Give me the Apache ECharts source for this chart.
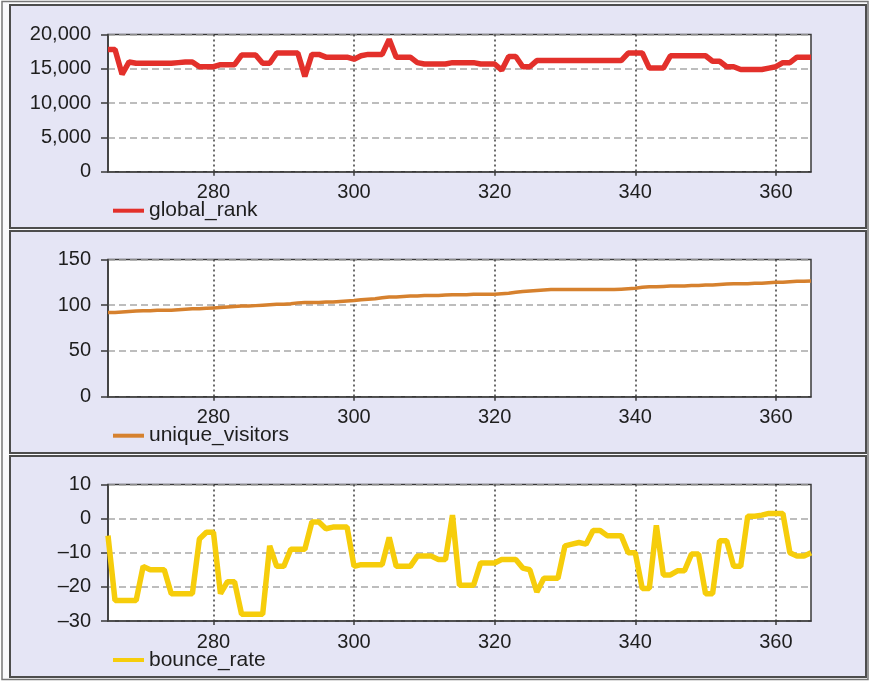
<!DOCTYPE html>
<html>
<head>
<meta charset="utf-8">
<script src="https://cdn.jsdelivr.net/npm/echarts@6/dist/echarts.min.js"></script>
<style>
  html, body { margin: 0; padding: 0; background: #ffffff; }
  #chart { width: 869px; height: 681px; }
</style>
</head>
<body>
<div id="chart"></div>
<script>
// Day-of-year range shown on every panel and the labelled x ticks
const firstDay = 265;
const lastDay = 365;
const xTicks = [280, 300, 320, 340, 360];

// Daily values, one per day from firstDay to lastDay
const globalRank = [
  17800, 17800, 14200, 16000, 15800, 15800, 15800, 15800, 15800, 15800, // 265
  15900, 16000, 16000, 15300, 15300, 15300, 15600, 15600, 15600, 17000, // 275
  17000, 17000, 15800, 15800, 17300, 17300, 17300, 17300, 13900, 17100, // 285
  17100, 16700, 16700, 16700, 16700, 16400, 16900, 17100, 17100, 17100, // 295
  19300, 16700, 16700, 16700, 15900, 15700, 15700, 15700, 15700, 15900, // 305
  15900, 15900, 15900, 15700, 15700, 15700, 14800, 16800, 16800, 15300, // 315
  15300, 16200, 16200, 16200, 16200, 16200, 16200, 16200, 16200, 16200, // 325
  16200, 16200, 16200, 16200, 17300, 17300, 17300, 15100, 15100, 15100, // 335
  16900, 16900, 16900, 16900, 16900, 16900, 16100, 16100, 15300, 15300, // 345
  14900, 14900, 14900, 14900, 15100, 15300, 15900, 15900, 16700, 16700, // 355
  16700                                                                  // 365
];

const uniqueVisitors = [
  92, 92, 92.5, 93, 93.5, 94, 94, 94.5, 94.5, 94.5,                      // 265
  95, 95.5, 96, 96, 96.5, 97, 97.5, 98, 98.5, 99,                        // 275
  99, 99.5, 100, 100.5, 101, 101, 101.5, 102.5, 103, 103,                // 285
  103, 103.5, 103.5, 104, 104.5, 105, 106, 106.5, 107, 108,              // 295
  109, 109, 109.5, 110, 110, 110.5, 110.5, 110.5, 111, 111.5,            // 305
  111.5, 111.5, 112, 112, 112, 112, 112.5, 113, 114, 115,                // 315
  115.5, 116, 116.5, 117, 117, 117, 117, 117, 117, 117,                  // 325
  117, 117, 117, 117.5, 118, 118.5, 119.5, 120, 120, 120.5,              // 335
  121, 121, 121, 121.5, 121.5, 122, 122, 122.5, 123, 123.5,              // 345
  123.5, 123.5, 124, 124, 124.5, 125, 125, 125.5, 126, 126,              // 355
  126.5                                                                  // 365
];

const bounceRate = [
  -5, -24, -24, -24, -24, -14, -15, -15, -15, -22,                       // 265
  -22, -22, -22, -6, -4, -4, -22, -18.5, -18.5, -28,                     // 275
  -28, -28, -28, -8, -14, -14, -9, -9, -9, -1,                           // 285
  -1, -3, -2.5, -2.5, -2.5, -14, -13.5, -13.5, -13.5, -13.5,             // 295
  -5.5, -14, -14, -14, -11, -11, -11, -12, -12, 1,                       // 305
  -19.5, -19.5, -19.5, -13, -13, -13, -12, -12, -12, -14.5,              // 315
  -15, -21.5, -17.5, -17.5, -17.5, -8, -7.5, -7, -7.5, -3.5,             // 325
  -3.5, -5, -5, -5, -10, -10, -20.5, -20.5, -2, -16.5,                   // 335
  -16.5, -15.3, -15.3, -10.4, -10.4, -22, -22, -6.5, -6.5, -14,          // 345
  -14, 0.7, 0.7, 1, 1.5, 1.5, 1.5, -10, -11, -11,                        // 355
  -10                                                                    // 365
];

// Axis ranges for the three panels
const rankAxis = { min: 0, max: 20000, interval: 5000 };
const visitorAxis = { min: 0, max: 150, interval: 50 };
const bounceAxis = { min: -30, max: 10, interval: 10 };

const FONT = '"Liberation Sans", Arial, Helvetica, sans-serif';
const PANEL_BG = '#e5e5f5';
const PANEL_EDGE = '#4d4d4d';

function pairs(values) {
  return values.map((v, i) => [firstDay + i, v]);
}

function fmtTick(v) {
  const s = Math.abs(v).toLocaleString('en-US');
  return v < 0 ? '\u2013' + s : s;
}

// Plot boxes (pixels)
const plots = [
  { top: 34.5, height: 137.2 },
  { top: 259.4, height: 137.3 },
  { top: 484.4, height: 136.6 }
];
const plotLeft = 108;
const plotWidth = 703;

// Panel frames behind each plot
const panels = [
  { y: 5, h: 223 },
  { y: 231, h: 222 },
  { y: 456, h: 221 }
];

const legendCenters = [210.7, 435.7, 660];

const seriesDefs = [
  { name: 'global_rank', values: globalRank, color: '#e3302b', width: 5.5, axis: rankAxis },
  { name: 'unique_visitors', values: uniqueVisitors, color: '#d6812e', width: 3.5, axis: visitorAxis },
  { name: 'bounce_rate', values: bounceRate, color: '#f6cd0b', width: 5.5, axis: bounceAxis }
];

const graphicEls = [
  {
    type: 'rect', z: -10, silent: true,
    shape: { x: 2, y: 1.5, width: 866, height: 678 },
    style: { fill: '#fafafc', stroke: '#777', lineWidth: 1.5 }
  }
];
panels.forEach(p => {
  graphicEls.push({
    type: 'rect', z: -9, silent: true,
    shape: { x: 10, y: p.y, width: 856, height: p.h },
    style: { fill: PANEL_BG, stroke: PANEL_EDGE, lineWidth: 2 }
  });
});

const option = {
  backgroundColor: '#ffffff',
  animation: false,
  graphic: { elements: graphicEls },
  grid: plots.map(p => ({
    left: plotLeft, top: p.top, width: plotWidth, height: p.height,
    show: true, backgroundColor: '#ffffff', borderColor: '#3a3a3a', borderWidth: 1.5
  })),
  xAxis: plots.map((p, i) => ({
    type: 'value', gridIndex: i, min: firstDay, max: lastDay,
    axisLine: { show: true, onZero: false, lineStyle: { color: '#3a3a3a', width: 1.5 } },
    axisTick: { show: true, customValues: xTicks, length: 4, lineStyle: { color: '#3a3a3a', width: 1.5 } },
    axisLabel: { customValues: xTicks, margin: 11, color: '#1e1e1e', fontSize: 20, fontFamily: FONT },
    splitLine: { show: true, lineStyle: { color: '#3a3a3a', width: 1.5, type: [2, 3] } }
  })),
  yAxis: seriesDefs.map((s, i) => ({
    type: 'value', gridIndex: i,
    min: s.axis.min, max: s.axis.max, interval: s.axis.interval,
    axisLine: { show: true, lineStyle: { color: '#3a3a3a', width: 1.5 } },
    axisTick: { show: true, length: 7, lineStyle: { color: '#3a3a3a', width: 1.5 } },
    axisLabel: { margin: 17, color: '#1e1e1e', fontSize: 20, fontFamily: FONT, formatter: fmtTick },
    splitLine: { show: true, lineStyle: { color: '#a8a8a8', width: 1.5, type: [7, 4] } }
  })),
  legend: seriesDefs.map((s, i) => ({
    data: [s.name],
    left: 113, top: legendCenters[i] - 11,
    padding: 0,
    selectedMode: false,
    icon: 'rect', itemWidth: 31, itemHeight: 4,
    textStyle: { fontSize: 21, fontFamily: FONT, color: '#1e1e1e', lineHeight: 22 }
  })),
  series: seriesDefs.map((s, i) => ({
    name: s.name, type: 'line',
    xAxisIndex: i, yAxisIndex: i,
    data: pairs(s.values),
    showSymbol: false, symbol: 'none',
    color: s.color,
    lineStyle: { color: s.color, width: s.width },
    z: 3
  }))
};

const chart = echarts.init(document.getElementById('chart'), null, { renderer: 'canvas' });
chart.setOption(option);
</script>
</body>
</html>
